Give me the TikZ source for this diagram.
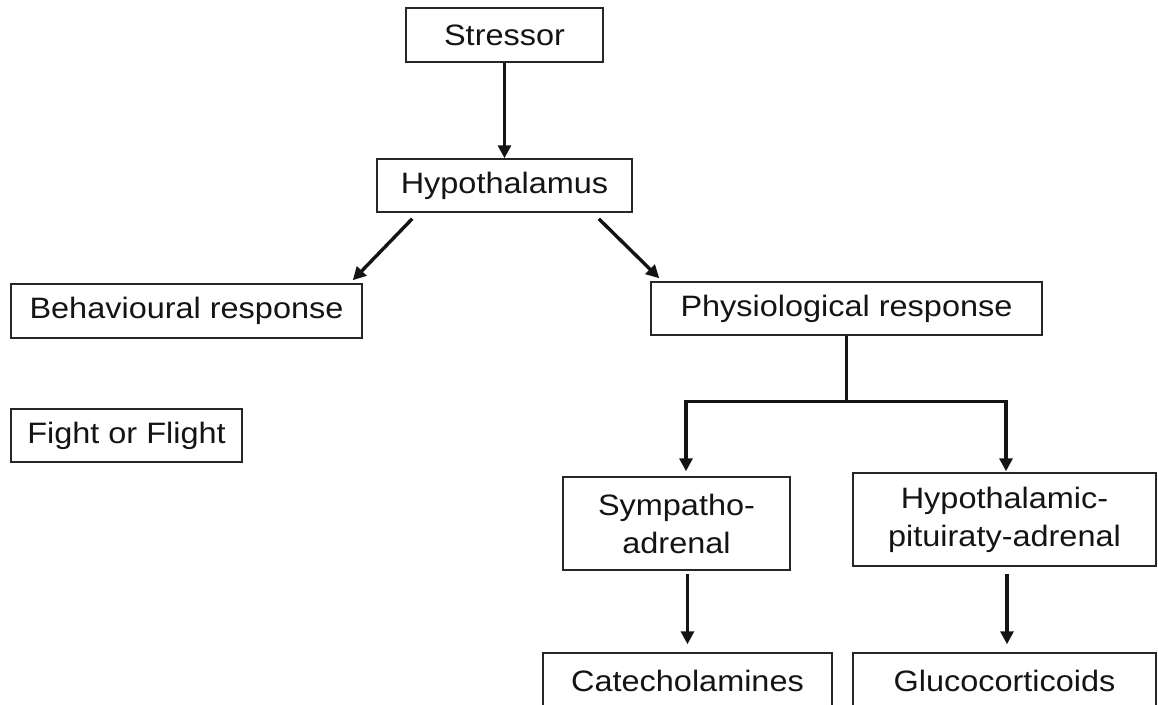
\documentclass[tikz,border=0pt]{standalone}
\usepackage{fontspec}
\setmainfont{Liberation Sans}[FakeStretch=1.1]
\usetikzlibrary{arrows.meta,calc}
\begin{document}
\begin{tikzpicture}[x=1pt,y=-1pt,
  box/.style={draw=black!85,line width=1.5pt,fill=white,inner sep=0pt,
    font=\fontsize{29.5}{38}\selectfont,align=center,text=black!92},
  conn/.style={line width=3.4pt,black!92},
  arr/.style={conn,-{Triangle[width=13pt,length=13pt]}}]
\fill[white] (0,0) rectangle (1158,704);
\useasboundingbox (0,0) rectangle (1158,704);
\node[box,minimum width=197pt,minimum height=54pt] (stressor) at (504.5,35) {Stressor};
\node[box,minimum width=255pt,minimum height=53pt] (hypo) at (504.5,185.5) {Hypothalamus};
\node[box,minimum width=351pt,minimum height=54pt] (behav) at (186.5,311) {Behavioural response};
\node[box,minimum width=231pt,minimum height=53pt] (fight) at (126.5,435.5) {Fight or Flight};
\node[box,minimum width=391pt,minimum height=53pt] (physio) at (846.5,308.5) {Physiological response};
\node[box,minimum width=227pt,minimum height=93pt] (symp) at (676.5,523.5) {Sympatho-\\adrenal};
\node[box,minimum width=303pt,minimum height=93pt] (hpa) at (1004.5,519.5) {Hypothalamic-\\pituiraty-adrenal};
\node[box,minimum width=289pt,minimum height=56pt] (catech) at (687.5,681) {Catecholamines};
\node[box,minimum width=303pt,minimum height=56pt] (gluco) at (1004.5,681) {Glucocorticoids};
\draw[arr] (stressor.south) -- (hypo.north);
\draw[arr] ($(hypo.south west)+(36,6)$) -- ($(behav.north east)+(-10,-3)$);
\draw[arr] ($(hypo.south east)+(-34,6)$) -- ($(physio.north west)+(9,-3)$);
\coordinate (jn) at ($(physio.south)+(0,66)$);
\draw[conn] (physio.south) -- (jn);
\draw[arr] ($(jn)+(1.7,0)$) -| ($(symp.north)+(9.5,-5)$);
\draw[arr] ($(jn)+(-1.7,0)$) -| ($(hpa.north)+(1.5,-1)$);
\draw[arr] ($(symp.south -| catech.north)+(0,3)$) -- ($(catech.north)+(0,-8)$);
\draw[arr] ($(hpa.south)+(2.5,7)$) -- ($(gluco.north)+(2.5,-8)$);
\end{tikzpicture}
\end{document}
